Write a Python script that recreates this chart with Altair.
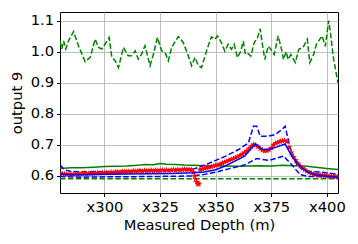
import altair as alt
import pandas as pd

# ---------------- data ----------------
# green dashed (upper, noisy around 1.0)
gtop_depth = [280.0, 280.8, 281.6, 282.6, 283.8, 286.1, 288.3, 291.3, 293.6, 295.8,
              297.3, 298.8, 300.3, 302.1, 303.3, 304.8, 306.3, 308.5, 310.7, 312.2,
              313.8, 315.2, 316.7, 318.2, 319.0, 320.5, 322.0, 323.8, 325.7, 327.2,
              328.7, 330.2, 333.2, 335.4, 337.7, 339.2, 340.7, 342.2, 343.6, 345.2,
              346.6, 348.1, 349.7, 350.8, 352.6, 354.1, 355.6, 357.1, 358.3, 359.8,
              361.3, 362.4, 363.4, 364.6, 365.8, 367.3, 368.8, 370.0, 370.9, 372.1,
              373.6, 374.8, 376.3, 378.1, 379.6, 380.5, 381.7, 382.6, 383.8, 385.8,
              387.4, 389.3, 391.2, 392.3, 393.8, 395.3, 397.8, 399.3, 400.8, 401.7,
              402.8, 404.0, 405.0]
gtop_val = [1.035, 1.009, 1.035, 1.009, 1.035, 1.065, 1.019, 0.968, 0.982, 1.041,
            1.014, 1.009, 1.025, 1.046, 0.982, 0.971, 0.949, 1.014, 0.987, 0.987,
            1.003, 0.976, 0.992, 1.019, 0.998, 0.955, 0.992, 1.046, 1.003, 0.998,
            0.971, 1.014, 1.049, 1.030, 0.987, 0.955, 0.982, 0.955, 0.949, 0.986,
            1.018, 1.048, 1.040, 1.051, 1.029, 1.002, 1.024, 1.008, 1.024, 0.981,
            1.002, 1.034, 0.991, 0.994, 0.986, 1.029, 1.045, 1.074, 1.029, 0.975,
            1.018, 1.008, 0.991, 1.051, 1.008, 0.975, 1.000, 0.975, 0.991, 0.965,
            1.008, 1.014, 1.040, 0.965, 0.986, 1.024, 1.051, 1.018, 1.100, 1.056,
            0.986, 0.938, 0.900]

# green solid
gmid_depth = [280, 285, 290, 295, 300, 305, 310, 315, 318, 322, 325, 328, 332, 336,
              340, 345, 350, 355, 360, 365, 370, 375, 380, 385, 390, 395, 400, 405]
gmid_val = [0.624, 0.626, 0.626, 0.628, 0.630, 0.631, 0.632, 0.634, 0.637, 0.636,
            0.640, 0.638, 0.637, 0.635, 0.634, 0.633, 0.633, 0.632, 0.631, 0.632,
            0.633, 0.632, 0.634, 0.633, 0.632, 0.628, 0.624, 0.621]

# green dashed (lower, flat)
glow_depth = [280, 320, 360, 405]
glow_val = [0.591, 0.591, 0.591, 0.591]

# blue solid
bmid_depth = [280, 285, 290, 300, 310, 320, 330, 340, 345, 350, 354, 358, 363,
              367.7, 370.7, 373.7, 377, 381.2, 384.2, 388, 391, 395, 400, 405]
bmid_val = [0.606, 0.604, 0.604, 0.605, 0.606, 0.607, 0.608, 0.610, 0.613, 0.620,
            0.631, 0.645, 0.664, 0.703, 0.686, 0.685, 0.692, 0.703, 0.664, 0.631,
            0.614, 0.603, 0.599, 0.596]

# blue dashed upper
bup_depth = [280, 282, 285, 300, 317, 330, 340, 345, 350, 354.3, 360.3, 364.7, 367,
             368.5, 370, 373.7, 376.7, 379.7, 381.2, 383.5, 386.5, 388, 392, 398, 405]
bup_val = [0.635, 0.620, 0.614, 0.613, 0.617, 0.620, 0.622, 0.635, 0.650, 0.663,
           0.685, 0.706, 0.760, 0.760, 0.728, 0.728, 0.733, 0.749, 0.760, 0.690,
           0.636, 0.626, 0.614, 0.612, 0.605]

# blue dashed lower
blow_depth = [280, 290, 300, 320, 340, 345, 350, 354.3, 363.2, 368.5, 374, 380.5,
              384.2, 388, 392, 405]
blow_val = [0.598, 0.596, 0.597, 0.598, 0.600, 0.605, 0.612, 0.620, 0.636, 0.656,
            0.650, 0.664, 0.636, 0.604, 0.598, 0.597]

# red observations (stars)
obs_depth = [280, 281, 282, 283, 284, 285, 286, 287, 288, 289, 290, 291, 292, 293,
             294, 295, 296, 297, 298, 299, 300, 301, 302, 303, 304, 305, 306, 307,
             308, 309, 310, 311, 312, 313, 314, 315, 316, 317, 318, 319, 320, 321,
             322, 323, 324, 325, 326, 327, 328, 329, 330, 331, 332, 333, 334, 335,
             336, 337, 338, 339, 340, 340.5, 341, 341.5, 342, 342.5, 343, 344, 345,
             346, 347, 348, 349, 350, 351, 352, 353, 354, 355, 356, 357, 358, 359,
             360, 361, 362, 363, 364, 365, 366, 367, 368, 369, 370, 371, 372, 373,
             374, 375, 376, 377, 378, 379, 380, 381, 382, 383, 384, 385, 386, 387,
             388, 389, 390, 391, 392, 393, 394, 395, 396, 397, 398, 399, 400, 401,
             402, 403, 404, 405]
obs_val = [0.608, 0.607, 0.606, 0.605, 0.606, 0.605, 0.606, 0.607, 0.606, 0.607,
           0.607, 0.608, 0.607, 0.608, 0.609, 0.608, 0.609, 0.610, 0.609, 0.610,
           0.610, 0.611, 0.610, 0.612, 0.611, 0.612, 0.613, 0.612, 0.614, 0.613,
           0.614, 0.615, 0.614, 0.616, 0.615, 0.616, 0.617, 0.615, 0.617, 0.616,
           0.617, 0.618, 0.616, 0.618, 0.617, 0.618, 0.619, 0.617, 0.619, 0.618,
           0.619, 0.620, 0.618, 0.620, 0.619, 0.620, 0.621, 0.620, 0.621, 0.620,
           0.612, 0.600, 0.590, 0.580, 0.573, 0.575, 0.620, 0.622, 0.624, 0.626,
           0.628, 0.630, 0.632, 0.634, 0.636, 0.638, 0.641, 0.644, 0.647, 0.650,
           0.653, 0.656, 0.659, 0.662, 0.666, 0.670, 0.675, 0.681, 0.688, 0.695,
           0.701, 0.699, 0.694, 0.688, 0.683, 0.680, 0.681, 0.684, 0.690, 0.700,
           0.706, 0.708, 0.711, 0.713, 0.714, 0.710, 0.692, 0.675, 0.661, 0.650,
           0.640, 0.632, 0.625, 0.620, 0.615, 0.611, 0.608, 0.606, 0.605, 0.604,
           0.603, 0.602, 0.601, 0.600, 0.600, 0.599, 0.598, 0.598, 0.597]

x_ticks = [300, 325, 350, 375, 400]
y_ticks = [0.6, 0.7, 0.8, 0.9, 1.0, 1.1]

# ---------------- chart ----------------
FONT = "DejaVu Sans"
xs = alt.Scale(domain=[280, 405], nice=False, zero=False)
ys = alt.Scale(domain=[0.545, 1.128], nice=False, zero=False)

xax = alt.Axis(values=x_ticks, labelExpr="'x' + datum.value", title="Measured Depth (m)",
               grid=True, labelPadding=3, titlePadding=3)
yax = alt.Axis(values=y_ticks, format=".1f", title="output 9", grid=True,
               labelPadding=3, titlePadding=6)


def line(depth, val, color, dash=None):
    df = pd.DataFrame({"depth": depth, "value": val})
    kw = dict(color=color, strokeWidth=1.5, clip=True)
    if dash:
        kw["strokeDash"] = dash
    return alt.Chart(df).mark_line(**kw).encode(
        x=alt.X("depth:Q", scale=xs, axis=xax),
        y=alt.Y("value:Q", scale=ys, axis=yax),
    )


dash = [5.5, 2.4]
star = ("M0,-1L0.24,-0.33L0.95,-0.31L0.38,0.12L0.59,0.81L0,0.4L-0.59,0.81"
        "L-0.38,0.12L-0.95,-0.31L-0.24,-0.33Z")

obs = alt.Chart(pd.DataFrame({"depth": obs_depth, "value": obs_val})).mark_point(
    shape=star, filled=True, color="red", size=45, opacity=1, clip=True
).encode(
    x=alt.X("depth:Q", scale=xs, axis=xax),
    y=alt.Y("value:Q", scale=ys, axis=yax),
)

chart = alt.layer(
    line(gtop_depth, gtop_val, "green", dash),
    line(gmid_depth, gmid_val, "green"),
    line(glow_depth, glow_val, "green", dash),
    line(bup_depth, bup_val, "blue", dash),
    line(blow_depth, blow_val, "blue", dash),
    obs,
    line(bmid_depth, bmid_val, "blue"),
).properties(
    width=278, height=181,
    autosize=alt.AutoSizeParams(type="none"),
    padding={"left": 52, "top": 4, "right": 8, "bottom": 40},
).configure_view(
    stroke="black", strokeWidth=1
).configure_axis(
    labelFont=FONT, titleFont=FONT, labelFontSize=14.7, titleFontSize=14.7,
    labelColor="black", titleColor="black", titleFontWeight="normal",
    tickColor="black", tickSize=3.5, tickWidth=1, domain=False,
    gridColor="#b0b0b0", gridWidth=0.8,
)

chart.save("out.html", embed_options={"renderer": "svg", "actions": False})
